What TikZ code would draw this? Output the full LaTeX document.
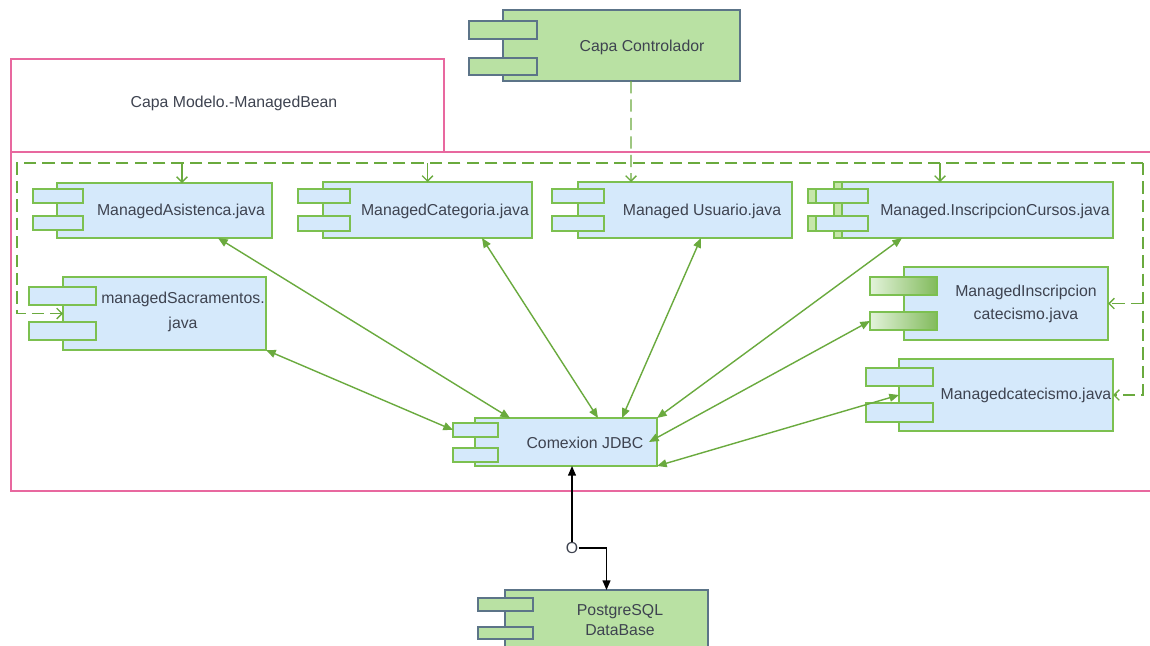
\documentclass[tikz,border=0pt]{standalone}
\usepackage{fontspec}
\setmainfont{Liberation Sans}
\usetikzlibrary{arrows.meta,calc}
\definecolor{pinkc}{HTML}{E8689F}
\definecolor{gline}{HTML}{6AAA3E}
\definecolor{gborder}{HTML}{7CC050}
\definecolor{bfill}{HTML}{D5E9FB}
\definecolor{gfill}{HTML}{B9E1A3}
\definecolor{gbord}{HTML}{5C7488}
\definecolor{txtc}{HTML}{3E4350}
\definecolor{stripc}{HTML}{C6E6AA}
\newcommand\cbox[6]{\node[#6, minimum width={(#4-#2)*0.02cm}, minimum height={(#5-#3)*0.02cm}] (#1) at ({(#2+#4)/2},{(#3+#5)/2}) {};}
\begin{document}
\begin{tikzpicture}[x=0.02cm,y=-0.02cm,
  body/.style={draw=gborder, fill=bfill, line width=0.8pt, inner sep=0pt, outer sep=0pt},
  gbody/.style={draw=gbord, fill=gfill, line width=0.8pt, inner sep=0pt, outer sep=0pt},
  gtab/.style={draw=gborder, left color=gfill!40!white, right color=gline!70!gfill, line width=0.8pt, inner sep=0pt, outer sep=0pt},
  strip/.style={draw=gborder, fill=stripc, line width=0.8pt, inner sep=0pt, outer sep=0pt},
  txt/.style={text=txtc, font=\fontsize{9}{13}\selectfont, align=center, inner sep=0pt},
  bi/.style={draw=gline, line width=0.8pt, {Triangle[length=5.5pt,width=4.5pt]}-{Triangle[length=5.5pt,width=4.5pt]}},
  dsh/.style={draw=gline, line width=0.8pt, dash pattern=on 7pt off 3.5pt},
  otip/.style={-{Straight Barb[length=3pt,width=6pt]}},
  pinkline/.style={draw=pinkc, line width=0.7pt},
  blk/.style={draw=black, line width=0.8pt},
  btip/.style={-{Triangle[length=5.5pt,width=4.5pt]}}
]
\useasboundingbox (0,0) rectangle (1150,646);
\clip (0,0) rectangle (1150,646);
\fill[white] (0,0) rectangle (1150,646);

% pink package frames
\draw[pinkline] (11,152) rectangle (444,59);
\draw[pinkline] (11,152) rectangle (1170,491);
\node[txt] (modelo) at (234,103) {Capa Modelo.-ManagedBean};

% controller
\cbox{ctrl}{503}{10}{740}{81}{gbody}
\cbox{ctrlA}{469}{21}{537}{39}{gbody}
\cbox{ctrlB}{469}{58}{537}{75}{gbody}
\node[txt] (ctrlL) at (642,47) {Capa Controlador};

% components
\cbox{asis}{57}{183}{272}{238}{body}
\cbox{asisA}{33}{189}{83}{203}{body}
\cbox{asisB}{33}{216}{83}{230}{body}
\node[txt] (asisL) at (181,211) {ManagedAsistenca.java};

\cbox{cat}{323}{182}{532}{238}{body}
\cbox{catA}{298}{189}{350}{203}{body}
\cbox{catB}{298}{216}{350}{231}{body}
\node[txt] (catL) at (445,211) {ManagedCategoria.java};

\cbox{usr}{578}{182}{792}{238}{body}
\cbox{usrA}{552}{189}{604}{203}{body}
\cbox{usrB}{552}{216}{604}{231}{body}
\node[txt] (usrL) at (702,211) {Managed Usuario.java};

\cbox{insc}{834}{182}{1113}{238}{body}
\cbox{inscS}{834}{182}{842}{238}{strip}
\cbox{inscA}{808}{189}{868}{203}{body}
\cbox{inscB}{808}{216}{868}{231}{body}
\cbox{inscAs}{808}{189}{816}{203}{strip}
\cbox{inscBs}{808}{216}{816}{231}{strip}
\node[txt] (inscL) at (995,211) {Managed.InscripcionCursos.java};

\cbox{sac}{63}{277}{266}{350}{body}
\cbox{sacA}{29}{287}{96}{305}{body}
\cbox{sacB}{29}{322}{96}{340}{body}
\node[txt, font=\fontsize{9}{14}\selectfont] (sacL) at (183,312) {managedSacramentos.\\java};

\cbox{incat}{904}{267}{1108}{340}{body}
\cbox{incatA}{870}{277}{937}{295}{gtab}
\cbox{incatB}{870}{312}{937}{330}{gtab}
\node[txt] (incatL) at (1026,304) {ManagedInscripcion\\catecismo.java};

\cbox{mcat}{899}{359}{1113}{431}{body}
\cbox{mcatA}{866}{368}{933}{386}{body}
\cbox{mcatB}{866}{403}{933}{422}{body}
\node[txt] (mcatL) at (1026,395) {Managedcatecismo.java};

\cbox{jdbc}{475}{418}{657}{466}{body}
\cbox{jdbcA}{453}{423}{498}{437}{body}
\cbox{jdbcB}{453}{448}{498}{462}{body}
\node[txt] (jdbcL) at (585,443) {Comexion JDBC};

\cbox{pg}{505}{590}{708}{680}{gbody}
\cbox{pgA}{478}{598}{533}{611}{gbody}
\cbox{pgB}{478}{627}{533}{639}{gbody}
\node[txt, font=\fontsize{9}{11.5}\selectfont] (pgL) at (620,620) {PostgreSQL\\DataBase};

% dashed dependency frame
\coordinate (dTL) at (17,163);
\coordinate (dTR) at (1143,163);
\path ([shift={(17.5,0)}]asis.north) coordinate (asisIn);
\path (cat.north) coordinate (catIn);
\path ([shift={(-33.5,0)}]insc.north) coordinate (inscIn);
\path ([shift={(-54,0)}]usr.north) coordinate (usrIn);
\draw[dsh, otip] (dTR) -- (dTL) -- (dTL |- sac.west) -- (sac.west);
\draw[dsh, otip] (dTR) |- (mcat.east);
\draw[dsh, otip] (dTR |- incat.east) -- (incat.east);
\draw[draw=gline, line width=0.8pt, otip] (asisIn |- dTL) -- (asisIn);
\draw[draw=gline, line width=0.8pt, otip] (catIn |- dTL) -- (catIn);
\draw[draw=gline, line width=0.8pt, otip] (inscIn |- dTL) -- (inscIn);
\draw[dsh, otip] ([shift={(9.5,0)}]ctrl.south) -- (usrIn);

% associations to JDBC
\draw[bi] ([shift={(53.5,0)}]asis.south) -- ([shift={(-56,0)}]jdbc.north);
\draw[bi] ([shift={(54.5,0)}]cat.south) -- ([shift={(32,0)}]jdbc.north);
\draw[bi] ([shift={(16,0)}]usr.south) -- ([shift={(56,0)}]jdbc.north);
\draw[bi] ([shift={(-71.5,0)}]insc.south) -- (jdbc.north east);
\draw[bi] (sac.south east) -- (jdbcA.west);
\draw[bi] (incatB.west) -- ([shift={(-8,0)}]jdbc.east);
\draw[bi] (mcat.west) -- (jdbc.south east);

% database link
\node[txt] (ifc) at (572,548) {O};
\draw[blk, btip] (ifc.north) -- ([shift={(6,0)}]jdbc.south);
\draw[blk, btip] (ifc.east) -| (pg.north);
\end{tikzpicture}
\end{document}
